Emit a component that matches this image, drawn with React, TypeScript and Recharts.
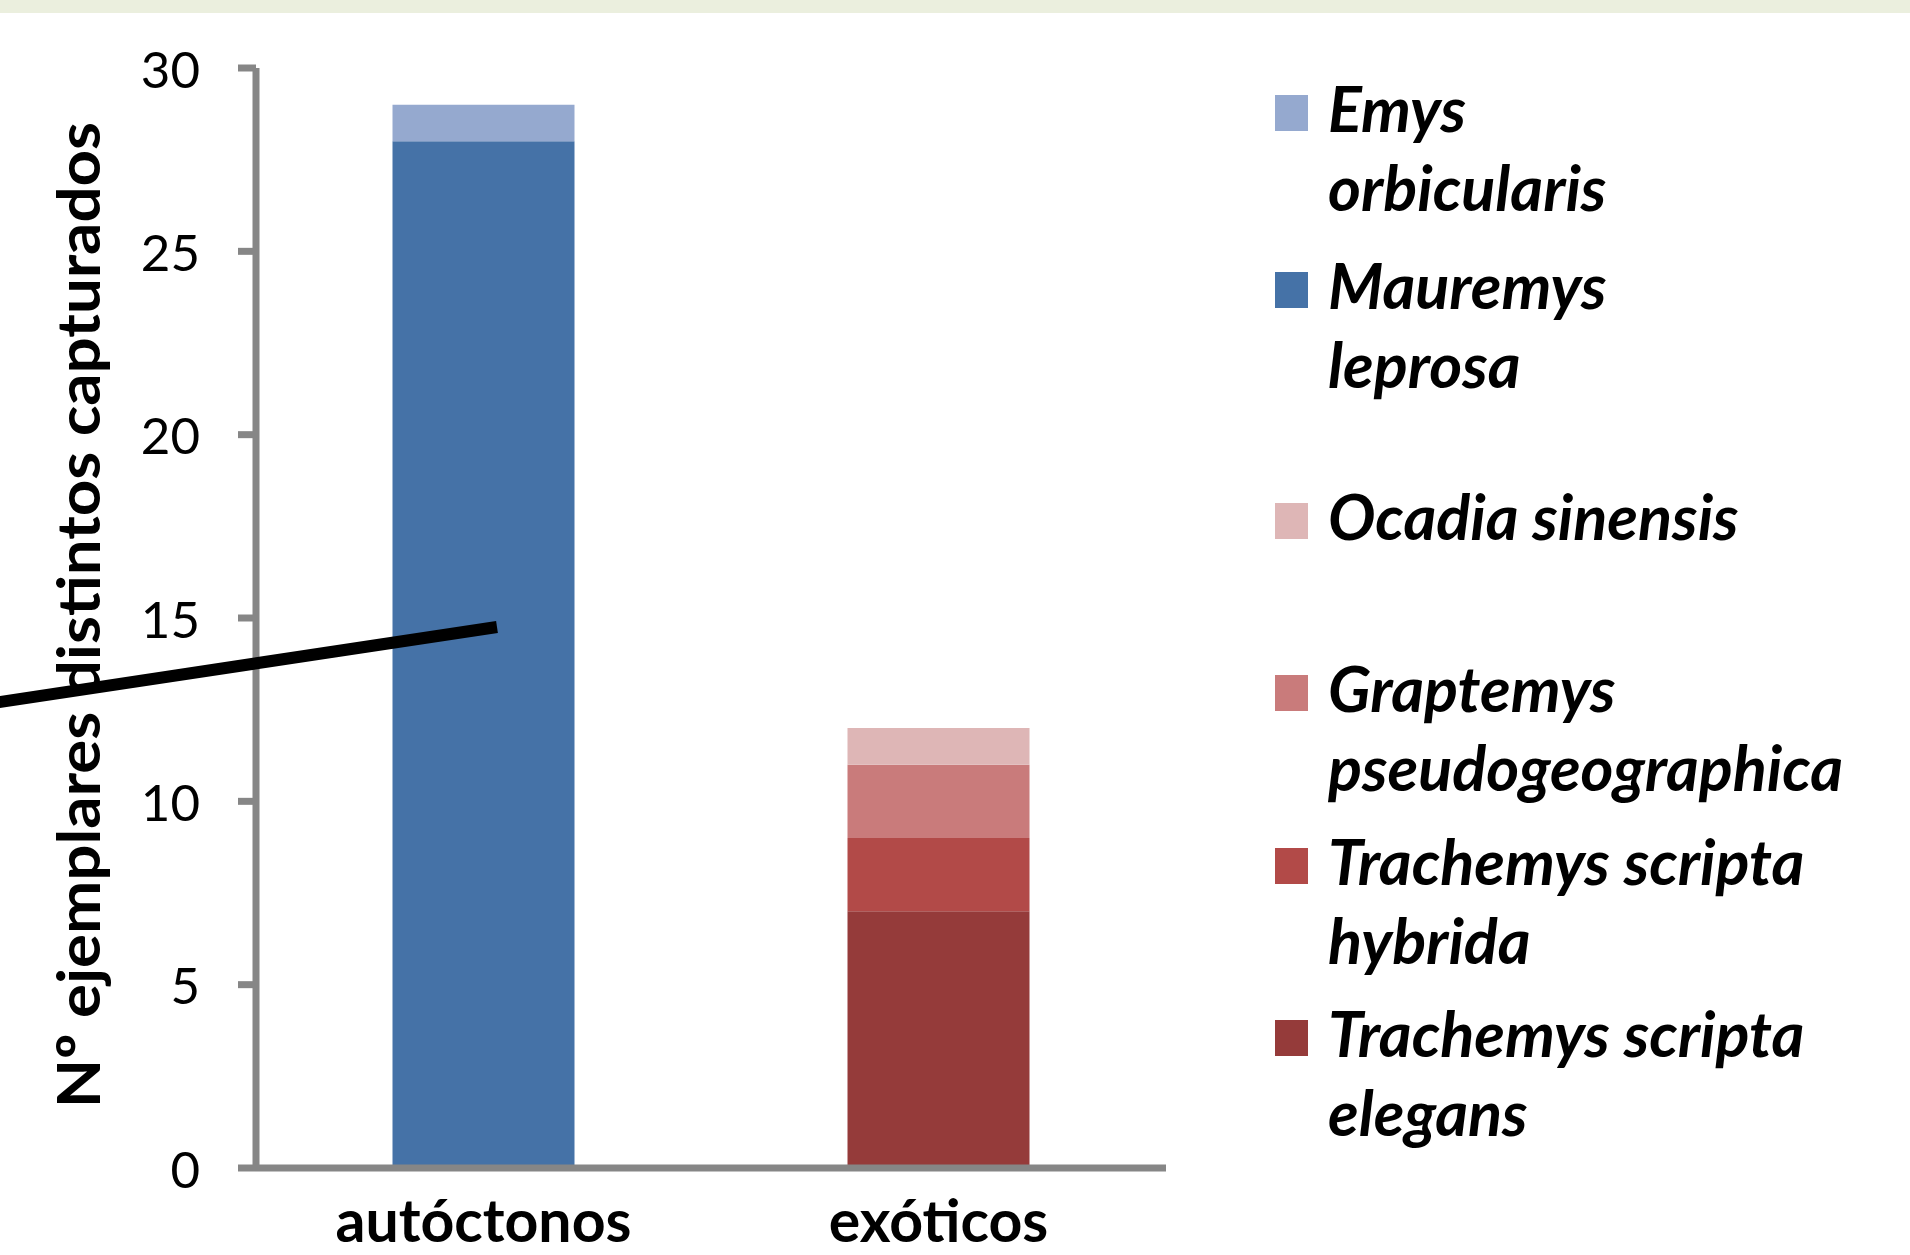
import React from 'react';
import { BarChart, Bar, XAxis, YAxis } from 'recharts';

// ---- data ----
const categories = ['autóctonos', 'exóticos'];
const emysOrbicularis = [1, 0];
const mauremysLeprosa = [28, 0];
const ocadiaSinensis = [0, 1];
const graptemysPseudogeographica = [0, 2];
const trachemysScriptaHybrida = [0, 2];
const trachemysScriptaElegans = [0, 7];
const yTicks = [0, 5, 10, 15, 20, 25, 30];
const categoryBoundaries = [0, 1, 2];
const yAxisTitle = 'Nº ejemplares distintos capturados';

// stack order: bottom -> top
const series = [
  { key: 'mauremys', lines: ['Mauremys', 'leprosa'], values: mauremysLeprosa, color: '#4572A7' },
  { key: 'emys', lines: ['Emys', 'orbicularis'], values: emysOrbicularis, color: '#95A9CF' },
  { key: 'elegans', lines: ['Trachemys scripta', 'elegans'], values: trachemysScriptaElegans, color: '#953B3A' },
  { key: 'hybrida', lines: ['Trachemys scripta', 'hybrida'], values: trachemysScriptaHybrida, color: '#B24A48' },
  { key: 'graptemys', lines: ['Graptemys', 'pseudogeographica'], values: graptemysPseudogeographica, color: '#C97B7B' },
  { key: 'ocadia', lines: ['Ocadia sinensis'], values: ocadiaSinensis, color: '#DEB6B6' },
];
const legendOrder = ['emys', 'mauremys', 'ocadia', 'graptemys', 'hybrida', 'elegans'];

const data = categories.map((category, i) => {
  const row: Record<string, string | number> = { category };
  series.forEach((s) => {
    row[s.key] = s.values[i];
  });
  return row;
});

// ---- layout / style ----
const W = 1910;
const H = 1255;
const AXIS = '#868686';
const FONT = 'Lato, "Open Sans", sans-serif';
const legendTops = [68, 245, 476, 648, 821, 993];

const YTick = (props: any) => {
  const { x, y, payload } = props;
  return (
    <text x={x} y={y} textAnchor="end" dominantBaseline="central" fontFamily={FONT} fontSize={51} fill="#000">
      {payload.value}
    </text>
  );
};

const CatTick = (props: any) => {
  const { x, y, payload } = props;
  return (
    <text x={x} y={y + 62} textAnchor="middle" fontFamily={FONT} fontWeight={700} fontSize={59} fill="#000">
      {payload.value}
    </text>
  );
};

const TitleLabel = (props: any) => {
  const vb = props && props.viewBox;
  const cy = vb && typeof vb.y === 'number' ? vb.y + vb.height / 2 - 3 : 615;
  return (
    <text
      transform={`translate(100, ${cy}) rotate(-90)`}
      textAnchor="middle"
      fontFamily={FONT}
      fontWeight={700}
      fontSize={60}
      fill="#000"
      textLength={986}
      lengthAdjust="spacingAndGlyphs"
    >
      {yAxisTitle}
    </text>
  );
};

export default function App() {
  return (
    <div style={{ position: 'absolute', left: 0, top: 0, width: W, height: H, background: '#fff', overflow: 'hidden' }}>
      <style>{'body{margin:0;overflow:hidden;}'}</style>
      <BarChart
        width={W}
        height={H}
        data={data}
        margin={{ top: 68, right: 744, bottom: 5, left: 0 }}
        barCategoryGap="30%"
      >
        <XAxis
          xAxisId="b"
          dataKey="category"
          type="category"
          interval={0}
          axisLine={false}
          tickLine={false}
          tickSize={0}
          tickMargin={0}
          height={70}
          tick={CatTick}
        />
        <XAxis
          xAxisId="a"
          type="number"
          domain={[0, 2]}
          ticks={categoryBoundaries}
          allowDataOverflow
          tick={false}
          tickSize={10}
          height={12}
          axisLine={{ stroke: AXIS, strokeWidth: 7 }}
          tickLine={{ stroke: AXIS, strokeWidth: 7 }}
        />
        <YAxis
          domain={[0, 30]}
          ticks={yTicks}
          interval={0}
          width={256}
          tickSize={18}
          tickMargin={38}
          axisLine={{ stroke: AXIS, strokeWidth: 7 }}
          tickLine={{ stroke: AXIS, strokeWidth: 7 }}
          tick={YTick}
          label={TitleLabel}
        />
        {series.map((s) => (
          <Bar
            key={s.key}
            xAxisId="b"
            dataKey={s.key}
            name={s.lines.join(' ')}
            stackId="stack"
            fill={s.color}
            isAnimationActive={false}
          />
        ))}
      </BarChart>

      {/* legend */}
      {legendOrder.map((k, i) => {
        const s = series.find((d) => d.key === k)!;
        return (
          <div key={k} style={{ position: 'absolute', left: 1275, top: legendTops[i] }}>
            <div style={{ position: 'absolute', left: 0, top: 27, width: 33, height: 36, background: s.color }} />
            <div
              style={{
                position: 'absolute',
                left: 53,
                top: 0,
                fontFamily: FONT,
                fontWeight: 700,
                fontStyle: 'italic',
                fontSize: 63,
                lineHeight: '79px',
                whiteSpace: 'nowrap',
                color: '#000',
              }}
            >
              {s.lines.map((l) => (
                <div key={l}>{l}</div>
              ))}
            </div>
          </div>
        );
      })}

      {/* annotation line */}
      <svg width={W} height={H} style={{ position: 'absolute', left: 0, top: 0, pointerEvents: 'none' }}>
        <line x1={-20} y1={705} x2={497} y2={627} stroke="#000" strokeWidth={12} strokeLinecap="butt" />
      </svg>

      {/* top band */}
      <div style={{ position: 'absolute', left: 0, top: 0, width: W, height: 13, background: '#EBEFDE' }} />
    </div>
  );
}
